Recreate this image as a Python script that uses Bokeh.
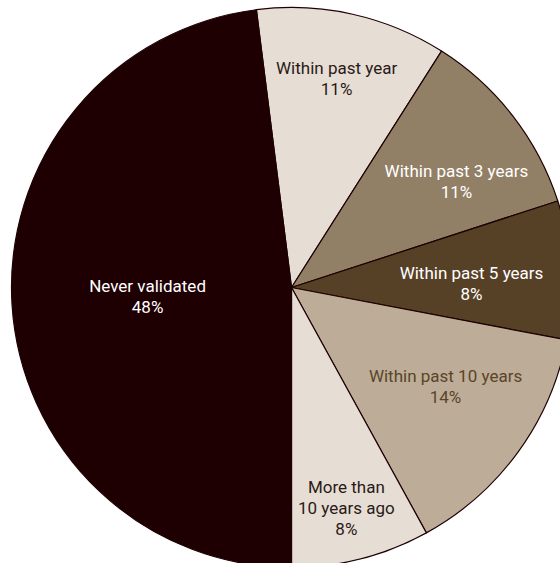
import math
from bokeh.plotting import figure
from bokeh.models import Range1d, ColumnDataSource
from bokeh.core.properties import value
from bokeh.embed import file_html
from bokeh.resources import INLINE

# ---- data ----
categories = ["Within past year", "Within past 3 years", "Within past 5 years",
              "Within past 10 years", "More than\n10 years ago", "Never validated"]
percents = [11, 11, 8, 14, 8, 48]

# ---- style ----
slice_colors = ["#e6ded5", "#928066", "#574126", "#bdac97", "#e6ded5", "#1e0003"]
text_colors = ["#2a1a16", "#ffffff", "#ffffff", "#5a4528", "#2a1a16", "#ffffff"]
label_angle_deg = [12.2, 57.2, 88.7, 122.6, 166.0, 266.4]   # clockwise from top
label_radius_frac = [0.762, 0.701, 0.643, 0.653, 0.81, 0.515]
start_offset_deg = -7.2  # first slice starts 7.2 deg left of 12 o'clock

R = 280
W, H = 560, 563
cx_px, cy_px = 291, 287  # pie centre in figure pixels from top-left

total = sum(percents)
starts, ends = [], []
cum = start_offset_deg
for v in percents:
    a0 = cum
    a1 = cum + v / total * 360.0
    starts.append(math.radians(90 - a0))
    ends.append(math.radians(90 - a1))
    cum = a1

src = ColumnDataSource(dict(start=starts, end=ends, color=slice_colors))

lx = [R * f * math.sin(math.radians(a)) for a, f in zip(label_angle_deg, label_radius_frac)]
ly = [R * f * math.cos(math.radians(a)) for a, f in zip(label_angle_deg, label_radius_frac)]
labels = [f"{c}\n{v}%" for c, v in zip(categories, percents)]
lsrc = ColumnDataSource(dict(x=lx, y=ly, text=labels, color=text_colors))

p = figure(width=W, height=H, output_backend="svg", toolbar_location=None,
           x_range=Range1d(-cx_px, W - cx_px), y_range=Range1d(-(H - cy_px), cy_px),
           min_border=0)
p.axis.visible = False
p.grid.visible = False
p.outline_line_color = None
p.background_fill_color = "white"
p.border_fill_color = "white"

p.wedge(x=0, y=0, radius=R, start_angle="start", end_angle="end", direction="clock",
        fill_color="color", line_color="#1e0003", line_width=1.2, source=src)

p.text(x="x", y="y", text="text", text_color="color", source=lsrc,
       text_font=value("Roboto"), text_font_size="17px",
       text_align="center", text_baseline="middle", text_line_height=1.05)

open("out.html", "w").write(file_html(p, INLINE))
